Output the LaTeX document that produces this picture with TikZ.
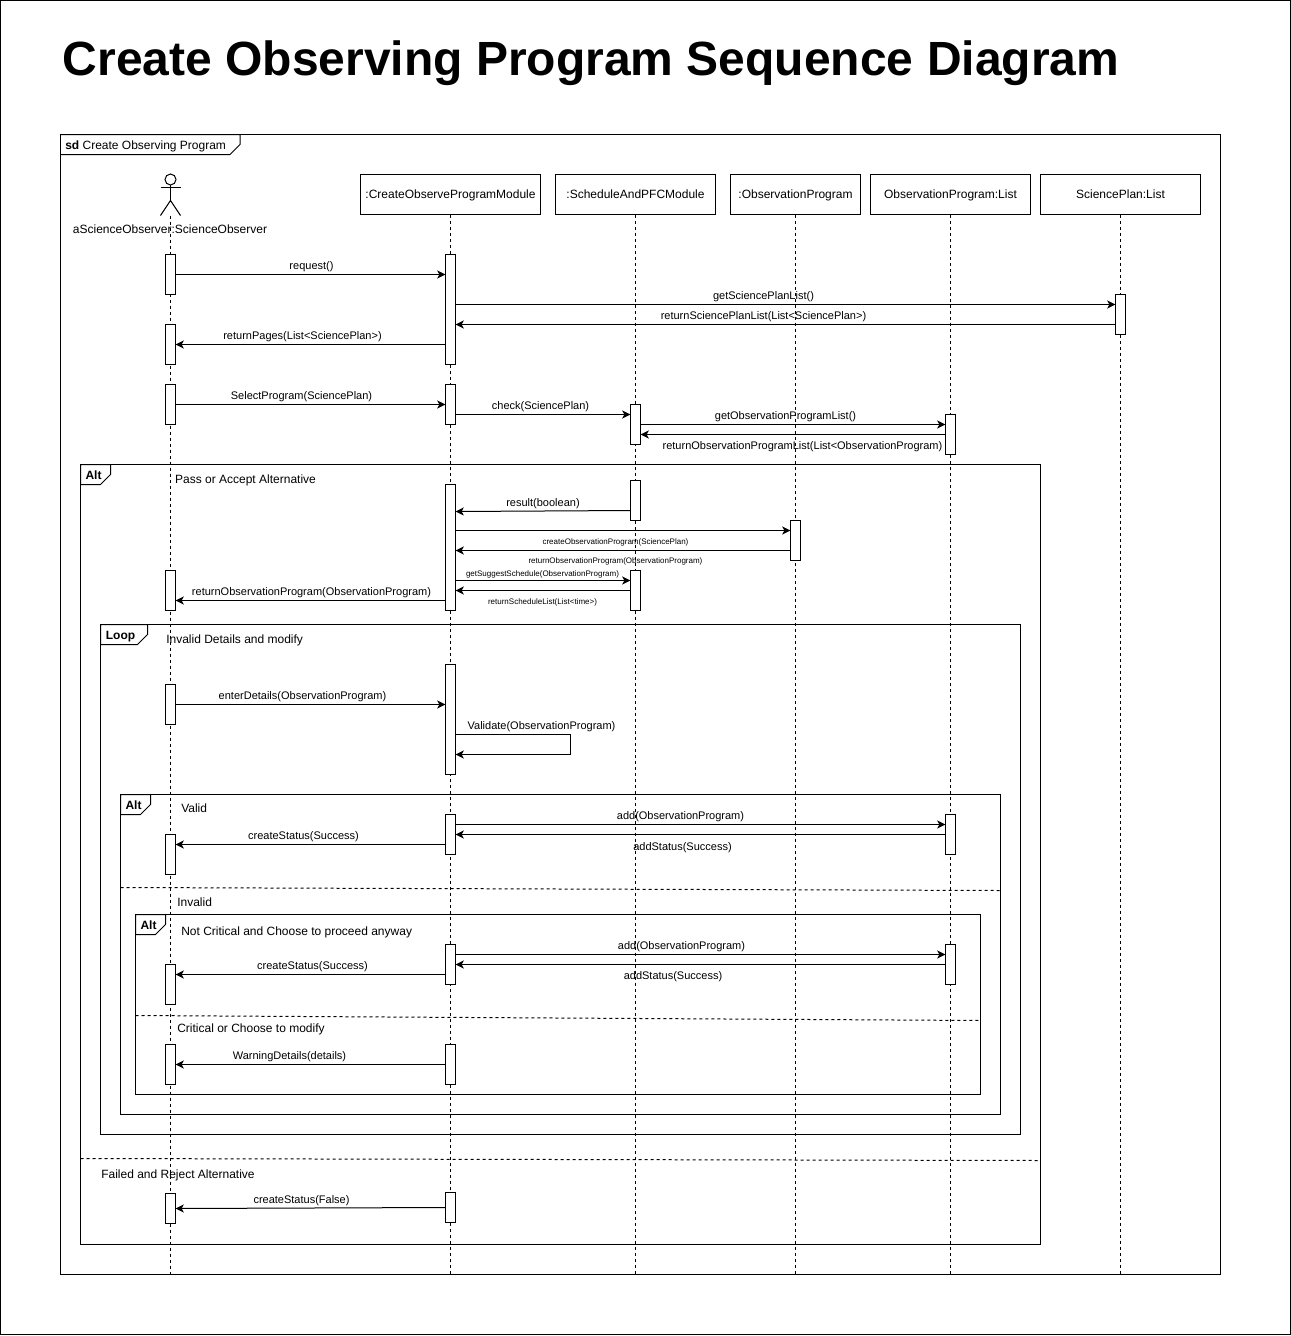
\documentclass[tikz,border=0pt]{standalone}
\usepackage{fontspec}
\setmainfont{Liberation Sans}
\usetikzlibrary{arrows.meta}
\newcounter{lblc}
\tikzset{
  base line/.style={line width=0.75pt,draw=black},
  hdr/.style={base line,fill=white,inner sep=0pt,outer sep=0pt,minimum height=30pt,text height=7.5pt,text depth=1.5pt,font=\fontsize{9}{11}\selectfont},
  lifeline/.style={base line,dash pattern=on 2.25pt off 2.25pt},
  actbox/.style={base line,fill=white,inner sep=0pt,outer sep=0pt,minimum width=7.5pt},
  msg/.style={base line,-{Stealth[length=6.2pt,width=6pt,inset=1.6pt]}},
  lbl/.style={inner sep=0pt,anchor=base,font=\fontsize{8.25}{10}\selectfont},
  lblplain/.style={inner sep=0pt,anchor=base,font=\fontsize{9}{11}\selectfont},
  lblsmall/.style={inner sep=0pt,anchor=base,font=\fontsize{6}{7}\selectfont},
  lblleft/.style={inner sep=0pt,anchor=base west,font=\fontsize{9}{11}\selectfont},
  tabtext/.style={inner sep=0pt,anchor=base,font=\fontsize{9}{11}\selectfont\bfseries},
  sep/.style={base line,dash pattern=on 2.25pt off 2.25pt},
  framebox/.style={base line},
  stick/.style={base line}
}
% \act{name}{x}{ytop}{ybottom}
\newcommand{\act}[4]{%
  \pgfmathsetmacro{\acth}{(#4-#3)*0.75}%
  \pgfmathsetmacro{\actc}{(#3+#4)/2}%
  \node[actbox,minimum height=\acth pt] (#1) at (#2,\actc) {};}
% \frag{name}{x1}{y1}{x2}{y2}{tabx}{label}{labelx}
\newcommand{\frag}[8]{%
  \draw[framebox] (#2,#3) rectangle (#4,#5);
  \draw[framebox,fill=white] (#2,#3) -- (#6,#3) -- (#6,#3+10) -- ({#6-10},#3+20) -- (#2,#3+20) -- cycle;
  \node[tabtext] (#1) at (#8,#3+15) {#7};}
% \mlabel{style}{x}{y}{text}
\newcommand{\mlabel}[4]{%
  \stepcounter{lblc}%
  \node[#1] (label\thelblc) at (#2,#3) {#4};}
% \rmsg{from}{to}{y} : message leaving east side to west side of the next box
\newcommand{\rmsg}[3]{\draw[msg] (#1.east |- 0,#3) -- (#2.west |- 0,#3);}
\newcommand{\lmsg}[3]{\draw[msg] (#1.west |- 0,#3) -- (#2.east |- 0,#3);}
\begin{document}
\begin{tikzpicture}[x=0.75pt,y=-0.75pt]
\useasboundingbox (0,0) rectangle (1291,1336);
\begin{scope}[shift={(0.5,0.5)}]
% page border
\draw[framebox] (0,0) rectangle (1290,1334);
\node[inner sep=0pt,anchor=base west,font=\fontsize{36}{40}\selectfont\bfseries] (title) at (62,75) {Create Observing Program Sequence Diagram};

% sd frame
\draw[framebox] (60,134) rectangle (1220,1274);
\draw[framebox] (60,134) -- (239.5,134) -- (239.5,144) -- (229.5,154) -- (60,154);
\node[inner sep=0pt,anchor=base west,font=\fontsize{9}{11}\selectfont] (sdlabel) at (64.5,148.5) {\textbf{sd} Create Observing Program};

% headers
\node[hdr,minimum width=135pt,draw] (m) at (450,194) {:CreateObserveProgramModule};
\node[hdr,minimum width=120pt,draw] (s) at (635,194) {:ScheduleAndPFCModule};
\node[hdr,minimum width=97.5pt,draw] (o) at (795,194) {:ObservationProgram};
\node[hdr,minimum width=120pt,draw] (l) at (950,194) {ObservationProgram:List};
\node[hdr,minimum width=120pt,draw] (p) at (1120,194) {SciencePlan:List};

% actor
\coordinate (actorfoot) at (170,215);
\draw[stick] (170,179) circle (5.5);
\draw[stick] (170,184.5) -- (170,200);
\draw[stick] (160,187) -- (180,187);
\draw[stick] (160,215) -- (170,200) -- (180,215);

% lifelines
\coordinate (aend) at (170,1274);
\draw[lifeline] (actorfoot) -- (aend);
\foreach \n in {m,s,o,l,p}{\draw[lifeline] (\n.south) -- (\n.south |- 0,1274);}

\node[lblplain] (actorlabel) at (169.5,232.5) {aScienceObserver:ScienceObserver};

% fragments
\frag{alt1}{80}{464}{1040}{1244}{110}{Alt}{93}
\draw[sep] (80,1158) -- (1040,1160);
\frag{loop1}{100}{624}{1020}{1134}{147}{Loop}{120}
\frag{alt2}{120}{794}{1000}{1114}{150}{Alt}{133}
\draw[sep] (120,887) -- (1000,890);
\frag{alt3}{135}{914}{980}{1094}{165}{Alt}{148}
\draw[sep] (135,1015) -- (980,1020);

\mlabel{lblplain}{245}{483}{Pass or Accept Alternative}
\mlabel{lblleft}{165.5}{643}{Invalid Details and modify}
\mlabel{lblleft}{180.5}{812}{Valid}
\mlabel{lblleft}{176.5}{906}{Invalid}
\mlabel{lblleft}{180.5}{935}{Not Critical and Choose to proceed anyway}
\mlabel{lblleft}{176.5}{1032}{Critical or Choose to modify}
\mlabel{lblleft}{100.5}{1178}{Failed and Reject Alternative}

% activation boxes
\act{a1}{170}{254}{294}
\act{a2}{170}{324}{364}
\act{a3}{170}{384}{424}
\act{a4}{170}{570}{610}
\act{a5}{170}{684}{724}
\act{a6}{170}{834}{874}
\act{a7}{170}{964}{1004}
\act{a8}{170}{1044}{1084}
\act{a9}{170}{1193}{1223}
\act{m1}{450}{254}{364}
\act{m2}{450}{384}{424}
\act{m3}{450}{484}{610}
\act{m4}{450}{664}{774}
\act{m5}{450}{814}{854}
\act{m6}{450}{944}{984}
\act{m7}{450}{1044}{1084}
\act{m8}{450}{1192}{1222}
\act{s1}{635}{404}{444}
\act{s2}{635}{480}{520}
\act{s3}{635}{570}{610}
\act{o1}{795}{520}{560}
\act{l1}{950}{414}{454}
\act{l2}{950}{814}{854}
\act{l3}{950}{944}{984}
\act{p1}{1120}{294}{334}

% messages
\rmsg{a1}{m1}{274}
\mlabel{lbl}{311}{269}{request()}
\rmsg{m1}{p1}{304}
\mlabel{lbl}{763}{299}{getSciencePlanList()}
\lmsg{p1}{m1}{324}
\mlabel{lbl}{763}{319}{returnSciencePlanList(List<SciencePlan>)}
\lmsg{m1}{a2}{344}
\mlabel{lbl}{302}{339}{returnPages(List<SciencePlan>)}
\rmsg{a3}{m2}{404}
\mlabel{lbl}{301}{399}{SelectProgram(SciencePlan)}
\rmsg{m2}{s1}{414}
\mlabel{lbl}{540}{409}{check(SciencePlan)}
\rmsg{s1}{l1}{424}
\mlabel{lbl}{785}{419}{getObservationProgramList()}
\lmsg{l1}{s1}{434}
\mlabel{lbl}{802}{449}{returnObservationProgramList(List<ObservationProgram)}
\draw[msg] (s2.west |- 0,510) -- (m3.east |- 0,511);
\mlabel{lbl}{542.5}{506}{result(boolean)}
\rmsg{m3}{o1}{530}
\mlabel{lblsmall}{615}{544}{createObservationProgram(SciencePlan)}
\lmsg{o1}{m3}{550}
\mlabel{lblsmall}{615}{563}{returnObservationProgram(ObservationProgram)}
\rmsg{m3}{s3}{580}
\mlabel{lblsmall}{542}{576}{getSuggestSchedule(ObservationProgram)}
\lmsg{s3}{m3}{590}
\mlabel{lblsmall}{542}{604}{returnScheduleList(List<time>)}
\lmsg{m3}{a4}{600}
\mlabel{lbl}{311}{595}{returnObservationProgram(ObservationProgram)}
\rmsg{a5}{m4}{704}
\mlabel{lbl}{302}{699}{enterDetails(ObservationProgram)}
\draw[msg] (m4.east |- 0,734) -- (570,734) -- (570,754) -- (m4.east |- 0,754);
\mlabel{lbl}{541}{729}{Validate(ObservationProgram)}
\rmsg{m5}{l2}{824}
\mlabel{lbl}{680}{819}{add(ObservationProgram)}
\lmsg{l2}{m5}{834}
\mlabel{lbl}{682}{850}{addStatus(Success)}
\lmsg{m5}{a6}{844}
\mlabel{lbl}{303}{839}{createStatus(Success)}
\rmsg{m6}{l3}{954}
\mlabel{lbl}{681}{949}{add(ObservationProgram)}
\lmsg{l3}{m6}{964}
\mlabel{lbl}{672.5}{979}{addStatus(Success)}
\lmsg{m6}{a7}{974}
\mlabel{lbl}{312}{969}{createStatus(Success)}
\lmsg{m7}{a8}{1064}
\mlabel{lbl}{289}{1059}{WarningDetails(details)}
\draw[msg] (m8.west |- 0,1207) -- (a9.east |- 0,1208);
\mlabel{lbl}{301}{1203}{createStatus(False)}
\end{scope}
\end{tikzpicture}
\end{document}
